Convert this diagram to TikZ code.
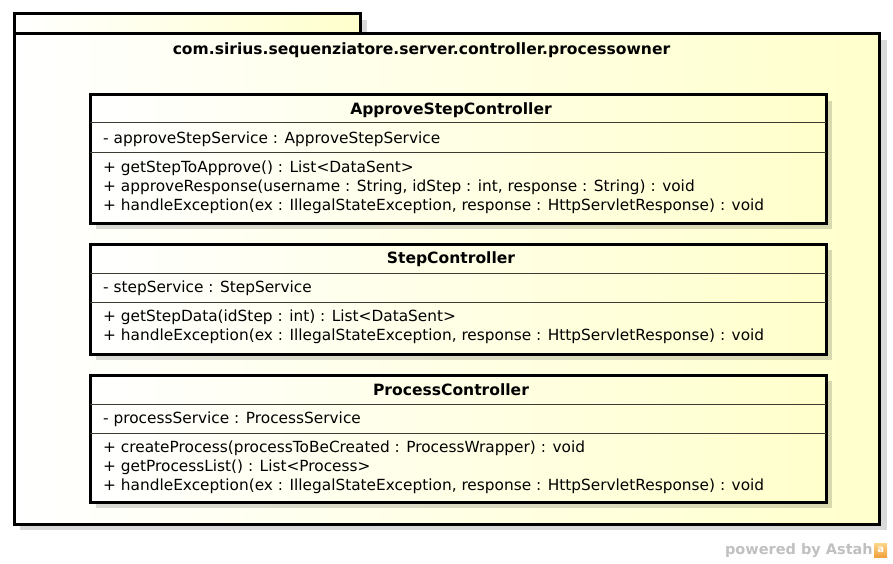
\documentclass[tikz,border=0pt]{standalone}
\usepackage{fontspec}
\setmainfont{DejaVu Sans}
\definecolor{ylw}{RGB}{255,255,204}
\definecolor{sepc}{RGB}{60,60,50}
\definecolor{astahgray}{RGB}{192,192,192}
\definecolor{astahor}{RGB}{240,160,60}
\definecolor{astahlt}{RGB}{255,215,140}
\tikzset{
  boxfill/.style={draw=black, line width=3pt, left color=white, right color=ylw},
  shade box/.style={fill=black, fill opacity=0.15, draw=none},
  sepline/.style={draw=sepc, line width=1pt},
  member/.style={anchor=west, inner sep=0pt, font=\fontsize{15.35}{18}\selectfont},
  clsname/.style={anchor=center, inner sep=0pt, font=\bfseries\fontsize{15.55}{18}\selectfont},
}
\begin{document}
\begin{tikzpicture}[x=1pt,y=-1pt]
\useasboundingbox (0,0) rectangle (893,564);
% package shadow
\path[shade box] (20,20) rectangle (367,40);
\path[shade box] (20,40) rectangle (887,530);
% package
\path[boxfill] (14,14) rectangle (360.5,33.5);
\path[boxfill] (14,33.5) rectangle (879,524);
\node[clsname] (pkgname) at (421.5,50) {com.sirius.sequenziatore.server.controller.processowner};

% class 1
\path[shade box] (96,101) rectangle (832,229);
\path[boxfill] (90,95) rectangle (826,223);
\draw[sepline] (90,123) -- (826,123);
\draw[sepline] (90,153) -- (826,153);
\node[clsname] (c1name) at (451,110) {ApproveStepController};
\node[member] (c1a1) at (103,139) {- approveStepService : ApproveStepService};
\node[member] (c1m1) at (103,168) {+ getStepToApprove() : List<DataSent>};
\node[member] (c1m2) at (103,187) {+ approveResponse(username : String, idStep : int, response : String) : void};
\node[member] (c1m3) at (103,206) {+ handleException(ex : IllegalStateException, response : HttpServletResponse) : void};

% class 2
\path[shade box] (96,250) rectangle (832,360);
\path[boxfill] (90,244) rectangle (826,354);
\draw[sepline] (90,273) -- (826,273);
\draw[sepline] (90,302) -- (826,302);
\node[clsname] (c2name) at (451,259) {StepController};
\node[member] (c2a1) at (103,288) {- stepService : StepService};
\node[member] (c2m1) at (103,317) {+ getStepData(idStep : int) : List<DataSent>};
\node[member] (c2m2) at (103,336) {+ handleException(ex : IllegalStateException, response : HttpServletResponse) : void};

% class 3
\path[shade box] (96,381) rectangle (832,508);
\path[boxfill] (90,375) rectangle (826,502);
\draw[sepline] (90,404) -- (826,404);
\draw[sepline] (90,433) -- (826,433);
\node[clsname] (c3name) at (451,390) {ProcessController};
\node[member] (c3a1) at (103,419) {- processService : ProcessService};
\node[member] (c3m1) at (103,448) {+ createProcess(processToBeCreated : ProcessWrapper) : void};
\node[member] (c3m2) at (103,467) {+ getProcessList() : List<Process>};
\node[member] (c3m3) at (103,486) {+ handleException(ex : IllegalStateException, response : HttpServletResponse) : void};

% watermark
\node[anchor=east, inner sep=0pt, text=astahgray, font=\bfseries\fontsize{14.5}{16}\selectfont] (powered) at (873,551) {powered by Astah};
\node[anchor=west, inner sep=0pt, top color=astahlt, bottom color=astahor, minimum width=13pt, minimum height=14pt, text=white, font=\bfseries\fontsize{10}{10}\selectfont] (logo) at (874,550) {\raisebox{-2pt}{a}};
\end{tikzpicture}
\end{document}
